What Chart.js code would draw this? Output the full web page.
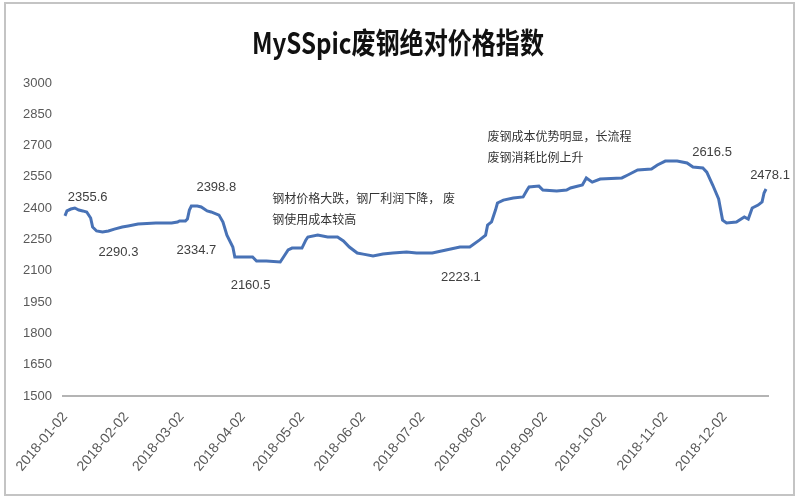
<!DOCTYPE html>
<html><head><meta charset="utf-8">
<script src="https://cdn.jsdelivr.net/npm/chart.js@4/dist/chart.umd.min.js"></script>
<style>html,body{margin:0;padding:0;background:#fff}</style>
</head><body>
<canvas id="c" width="800" height="500"></canvas>
<script>
const titleText = 'MySSpic废钢绝对价格指数';
const tickDays = [0, 31, 59, 90, 120, 151, 181, 212, 243, 273, 304, 334];
const tickLabels = ['2018-01-02','2018-02-02','2018-03-02','2018-04-02','2018-05-02','2018-06-02','2018-07-02','2018-08-02','2018-09-02','2018-10-02','2018-11-02','2018-12-02'];
const yTickValues = [1500, 1650, 1800, 1950, 2100, 2250, 2400, 2550, 2700, 2850, 3000];

// day offset from 2018-01-02
const days = [0,1,3,5,7,9,11,13,14,16,19,22,25,29,32,37,46,54,57,58,61,62,63,64,67,69,72,74,78,80,82,85,86,89,95,97,102,109,111,113,115,120,122,123,128,133,138,141,144,148,151,156,161,166,173,178,186,193,200,205,210,213,214,216,218,219,222,227,232,234,235,240,242,249,254,256,262,264,267,271,282,285,290,297,300,304,310,315,318,323,325,328,331,333,335,340,344,346,348,351,353,354,355];
const values = [2363,2387,2396,2401,2391,2387,2382,2353,2310,2291,2286,2291,2300,2310,2315,2324,2329,2329,2334,2339,2339,2348,2391,2410,2410,2406,2387,2382,2367,2334,2271,2214,2166,2166,2166,2147,2147,2142,2171,2200,2209,2209,2248,2262,2271,2262,2262,2243,2214,2185,2180,2171,2180,2185,2190,2185,2185,2200,2214,2214,2248,2271,2319,2334,2391,2425,2439,2449,2454,2487,2502,2506,2487,2482,2487,2497,2511,2545,2525,2540,2545,2559,2583,2588,2607,2626,2626,2617,2597,2593,2573,2511,2444,2343,2329,2334,2358,2348,2401,2415,2430,2473,2492];

// data labels: text, anchor day, pixel offset
const pointLabels = [
  {text:'2355.6', day:11, dx:1, dy:-15},
  {text:'2290.3', day:19, dx:16, dy:20},
  {text:'2334.7', day:61, dx:11, dy:29},
  {text:'2398.8', day:67, dx:19, dy:-19},
  {text:'2160.5', day:97, dx:-6, dy:24},
  {text:'2223.1', day:200, dx:1, dy:30},
  {text:'2616.5', day:315, dx:25, dy:-10},
  {text:'2478.1', day:355, dx:4, dy:-14}
];
const notes = [
  {lines:['钢材价格大跌，钢厂利润下降， 废','钢使用成本较高'], day:105, value:2449},
  {lines:['废钢成本优势明显，长流程','废钢消耗比例上升'], day:214, value:2745}
];

const series = days.map((d, i) => ({x: d, y: values[i]}));

const decor = {
  id: 'decor',
  beforeDraw(chart) {
    const ctx = chart.ctx;
    ctx.save();
    ctx.fillStyle = '#ffffff';
    ctx.fillRect(0, 0, chart.width, chart.height);
    ctx.strokeStyle = '#c4c4c4';
    ctx.lineWidth = 2;
    ctx.strokeRect(5, 3, 789, 492);
    // title
    ctx.font = 'bold 29px "Noto Sans CJK SC"';
    ctx.fillStyle = '#111111';
    ctx.textAlign = 'center';
    ctx.textBaseline = 'middle';
    const w = ctx.measureText(titleText).width;
    const s = 292 / w;
    ctx.translate(398, 43);
    ctx.scale(s, 1);
    ctx.fillText(titleText, 0, 0);
    ctx.restore();
  },
  afterDatasetsDraw(chart) {
    const ctx = chart.ctx;
    const xs = chart.scales.x, ys = chart.scales.y;
    ctx.save();
    ctx.font = '13px "Liberation Sans"';
    ctx.fillStyle = '#404040';
    ctx.textAlign = 'center';
    ctx.textBaseline = 'middle';
    pointLabels.forEach(p => {
      const i = days.indexOf(p.day);
      const px = xs.getPixelForValue(days[i]);
      const py = ys.getPixelForValue(values[i]);
      ctx.fillText(p.text, px + p.dx, py + p.dy);
    });
    ctx.font = '12px "Noto Sans CJK SC"';
    ctx.fillStyle = '#333333';
    ctx.textAlign = 'left';
    notes.forEach(n => {
      const px = xs.getPixelForValue(n.day);
      const py = ys.getPixelForValue(n.value);
      n.lines.forEach((l, k) => ctx.fillText(l, px, py + k * 21));
    });
    ctx.restore();
  }
};

new Chart(document.getElementById('c'), {
  type: 'line',
  data: {
    datasets: [{
      data: series,
      borderColor: '#4872b6',
      borderWidth: 3,
      pointRadius: 0,
      tension: 0,
      fill: false
    }]
  },
  options: {
    responsive: false,
    animation: false,
    layout: {padding: {left: 18, right: 32, top: 83, bottom: 0}},
    plugins: {legend: {display: false}, title: {display: false}, tooltip: {enabled: false}},
    scales: {
      x: {
        type: 'linear',
        min: -1,
        max: 356,
        afterBuildTicks: (scale) => { scale.ticks = tickDays.map(v => ({value: v})); },
        afterFit: (scale) => { scale.height = 104; },
        grid: {display: false, drawTicks: false},
        border: {display: true, color: '#b4b4b4', width: 2},
        ticks: {
          autoSkip: false,
          minRotation: 50,
          maxRotation: 50,
          padding: 13,
          color: '#595959',
          font: {family: 'Liberation Sans', size: 14},
          callback: (v) => { const k = tickDays.indexOf(v); return k >= 0 ? tickLabels[k] : ''; }
        }
      },
      y: {
        type: 'linear',
        min: 1500,
        max: 3000,
        afterBuildTicks: (scale) => { scale.ticks = yTickValues.map(v => ({value: v})); },
        afterFit: (scale) => { scale.width = 45; },
        grid: {display: false, drawTicks: false},
        border: {display: false},
        ticks: {
          padding: 11,
          color: '#595959',
          font: {family: 'Liberation Sans', size: 13},
          callback: (v) => String(v)
        }
      }
    }
  },
  plugins: [decor]
});
</script>
</body></html>
